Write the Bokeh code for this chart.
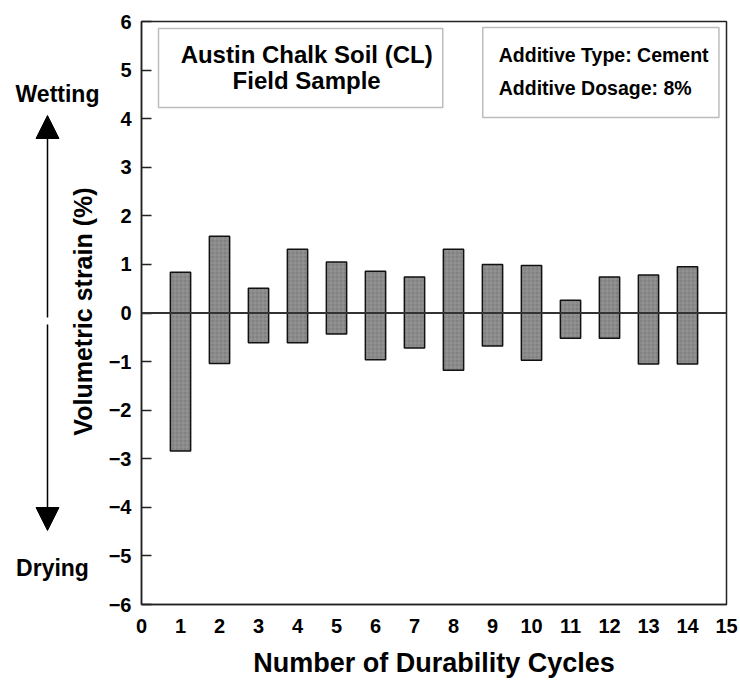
import math
from bokeh.plotting import figure
from bokeh.layouts import row
from bokeh.models import Range1d, Span, Label, BoxAnnotation, Arrow, NormalHead, FixedTicker
from bokeh.embed import file_html
from bokeh.resources import INLINE

# ---- data ----
cycles = [1, 2, 3, 4, 5, 6, 7, 8, 9, 10, 11, 12, 13, 14]
strain_max = [0.84, 1.58, 0.51, 1.31, 1.05, 0.86, 0.74, 1.31, 1.00, 0.98, 0.26, 0.74, 0.78, 0.95]
strain_min = [-2.84, -1.04, -0.61, -0.61, -0.43, -0.96, -0.72, -1.18, -0.68, -0.97, -0.52, -0.52, -1.05, -1.05]
x_ticks = list(range(0, 16))
y_ticks = list(range(-6, 7))

FONT = "Liberation Sans"
yr = Range1d(-6, 6)

# ---------------- main chart ----------------
p = figure(width=640, height=681, output_backend="svg", toolbar_location=None,
           x_range=Range1d(0, 15), y_range=yr,
           min_border_left=41, min_border_right=14, min_border_top=21, min_border_bottom=77)
p.grid.visible = False
p.outline_line_color = "#222222"
p.outline_line_width = 1.5
p.background_fill_color = "white"
p.border_fill_color = "white"

p.xaxis.ticker = FixedTicker(ticks=x_ticks)
p.yaxis.ticker = FixedTicker(ticks=y_ticks)
for ax in (p.xaxis[0], p.yaxis[0]):
    ax.axis_line_color = "#222222"
    ax.axis_line_width = 1.5
    ax.major_label_text_font = FONT
    ax.major_label_text_font_style = "bold"
    ax.major_label_text_font_size = "20px"
    ax.major_label_text_color = "black"
    ax.minor_tick_line_color = None
    ax.axis_label_text_font = FONT
    ax.axis_label_text_font_style = "bold"
    ax.axis_label_text_color = "black"
p.xaxis.major_tick_line_color = None
p.xaxis.major_label_standoff = 8
p.xaxis.axis_label = "Number of Durability Cycles"
p.xaxis.axis_label_text_font_size = "27px"
p.xaxis.axis_label_standoff = 12
p.yaxis.major_tick_in = 10
p.yaxis.major_tick_out = 0
p.yaxis.major_tick_line_color = "#222222"
p.yaxis.major_tick_line_width = 1.5
p.yaxis.major_label_standoff = 10

# zero line
p.add_layout(Span(location=0, dimension="width", line_color="#333333", line_width=2))

# bars
p.vbar(x=cycles, bottom=strain_min, top=strain_max, width=0.52,
       fill_color="#828282", line_color="#111111", line_width=1.5,
       hatch_pattern="cross", hatch_color="#a8a8a8", hatch_alpha=0.5, hatch_scale=4, hatch_weight=1)

# text box 1
p.add_layout(BoxAnnotation(left=0.436, right=7.724, bottom=4.230, top=5.857,
                           fill_color="white", fill_alpha=1, line_color="#222222", line_width=1.5))
p.segment(x0=[0.693], y0=[4.430], x1=[0.693], y1=[5.548], line_color="black", line_width=1)
for yy, t in [(5.321, "Austin Chalk Soil (CL)"), (4.786, "Field Sample")]:
    p.add_layout(Label(x=4.234, y=yy, text=t, text_align="center", text_baseline="middle",
                       text_font=FONT, text_font_style="bold", text_font_size="24px", text_color="black"))

# text box 2
p.add_layout(BoxAnnotation(left=8.750, right=14.806, bottom=4.025, top=5.878,
                           fill_color="white", fill_alpha=1, line_color="#222222", line_width=1.5))
p.segment(x0=[8.904, 8.904], y0=[5.095, 4.374], x1=[8.904, 8.904], y1=[5.548, 4.848],
          line_color="black", line_width=1)
for yy, t in [(5.301, "Additive Type: Cement"), (4.622, "Additive Dosage: 8%")]:
    p.add_layout(Label(x=9.161, y=yy, text=t, text_align="left", text_baseline="middle",
                       text_font=FONT, text_font_style="bold", text_font_size="19.5px", text_color="black"))

# ---------------- left strip: y title, wetting / drying arrows ----------------
left = figure(width=100, height=681, output_backend="svg", toolbar_location=None,
              x_range=Range1d(0, 100), y_range=yr,
              x_axis_location=None, y_axis_location=None,
              min_border_left=0, min_border_right=0, min_border_top=21, min_border_bottom=77)
left.grid.visible = False
left.outline_line_color = None
left.background_fill_color = "white"
left.border_fill_color = "white"

left.add_layout(Label(x=82, y=0.03, text="Volumetric strain (%)", angle=math.pi / 2,
                      text_align="center", text_baseline="middle",
                      text_font=FONT, text_font_style="bold", text_font_size="25px", text_color="black"))
left.add_layout(Arrow(x_start=47, y_start=-0.093, x_end=47, y_end=4.065,
                      line_color="black", line_width=1.5,
                      end=NormalHead(size=23, fill_color="black", line_color="black")))
left.add_layout(Arrow(x_start=47, y_start=-0.237, x_end=47, y_end=-4.477,
                      line_color="black", line_width=1.5,
                      end=NormalHead(size=23, fill_color="black", line_color="black")))
left.add_layout(Label(x=57, y=4.518, text="Wetting", text_align="center", text_baseline="middle",
                      text_font=FONT, text_font_style="bold", text_font_size="23px", text_color="black"))
left.add_layout(Label(x=52, y=-5.259, text="Drying", text_align="center", text_baseline="middle",
                      text_font=FONT, text_font_style="bold", text_font_size="23px", text_color="black"))

layout = row(left, p, spacing=0)
open("out.html", "w").write(file_html(layout, INLINE))
